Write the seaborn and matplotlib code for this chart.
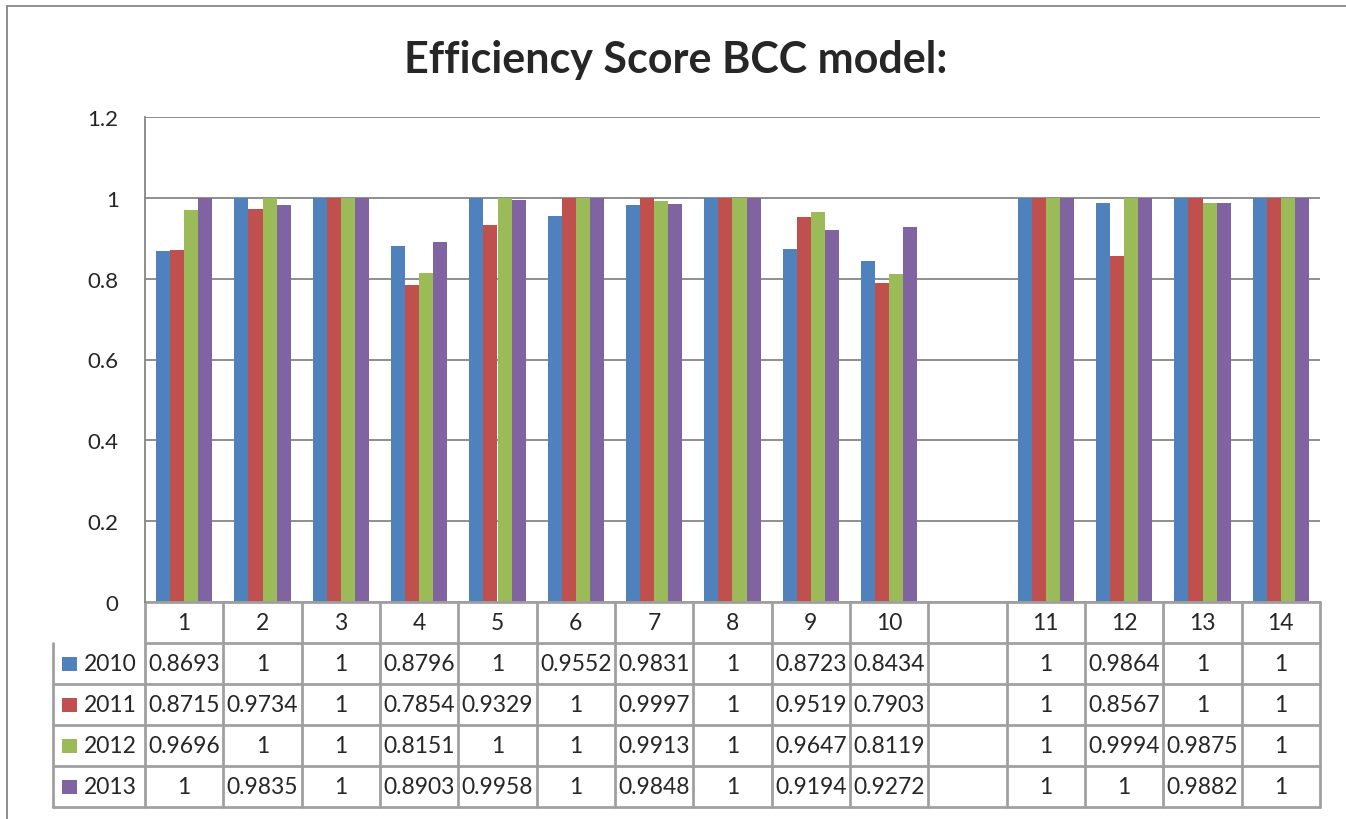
import matplotlib
matplotlib.use("Agg")
import matplotlib.pyplot as plt
import seaborn as sns
import pandas as pd
import numpy as np
from matplotlib.transforms import blended_transform_factory
from matplotlib.lines import Line2D
from matplotlib.patches import Rectangle

categories = ["1", "2", "3", "4", "5", "6", "7", "8", "9", "10", "", "11", "12", "13", "14"]
years = ["2010", "2011", "2012", "2013"]
v2010 = [0.8693, 1, 1, 0.8796, 1, 0.9552, 0.9831, 1, 0.8723, 0.8434, None, 1, 0.9864, 1, 1]
v2011 = [0.8715, 0.9734, 1, 0.7854, 0.9329, 1, 0.9997, 1, 0.9519, 0.7903, None, 1, 0.8567, 1, 1]
v2012 = [0.9696, 1, 1, 0.8151, 1, 1, 0.9913, 1, 0.9647, 0.8119, None, 1, 0.9994, 0.9875, 1]
v2013 = [1, 0.9835, 1, 0.8903, 0.9958, 1, 0.9848, 1, 0.9194, 0.9272, None, 1, 1, 0.9882, 1]
labels2010 = ["0.8693", "1", "1", "0.8796", "1", "0.9552", "0.9831", "1", "0.8723", "0.8434", "", "1", "0.9864", "1", "1"]
labels2011 = ["0.8715", "0.9734", "1", "0.7854", "0.9329", "1", "0.9997", "1", "0.9519", "0.7903", "", "1", "0.8567", "1", "1"]
labels2012 = ["0.9696", "1", "1", "0.8151", "1", "1", "0.9913", "1", "0.9647", "0.8119", "", "1", "0.9994", "0.9875", "1"]
labels2013 = ["1", "0.9835", "1", "0.8903", "0.9958", "1", "0.9848", "1", "0.9194", "0.9272", "", "1", "1", "0.9882", "1"]
colors = ["#4F81BD", "#C0504D", "#9BBB59", "#8064A2"]
yticks = [0, 0.2, 0.4, 0.6, 0.8, 1, 1.2]
ytick_labels = ["0", "0.2", "0.4", "0.6", "0.8", "1", "1.2"]

series = [v2010, v2011, v2012, v2013]
table_labels = [labels2010, labels2011, labels2012, labels2013]

rows = []
for y, vals in zip(years, series):
    for c, v in zip(categories, vals):
        rows.append({"cat": c, "year": y, "value": np.nan if v is None else v})
df = pd.DataFrame(rows)

sns.set_style("white")
plt.rcParams["font.family"] = ["Lato", "DejaVu Sans"]

W, H = 1346, 820
fig = plt.figure(figsize=(W / 100, H / 100), dpi=100)
left, right, top, bottom = 145, 1320, 118, 603
ax = fig.add_axes([left / W, (H - bottom) / H, (right - left) / W, (bottom - top) / H])

sns.barplot(data=df, x="cat", y="value", hue="year", order=categories, hue_order=years,
            palette=colors, width=0.72, gap=0, ax=ax, legend=False, errorbar=None,
            linewidth=0, saturation=1)

ax.set_xlim(-0.5, len(categories) - 0.5)
ax.set_ylim(0, 1.2)
ax.set_yticks(yticks)
ax.set_yticklabels(ytick_labels, fontsize=16)
ax.tick_params(axis="y", length=0, pad=19)
ax.set_xticks([])
ax.set_xlabel("")
ax.set_ylabel("")
ax.yaxis.grid(True, color="#868686", linewidth=1.3)
ax.set_axisbelow(True)
for s in ["top", "right", "bottom"]:
    ax.spines[s].set_visible(False)
ax.spines["left"].set_color("#868686")
ax.spines["left"].set_linewidth(1.3)

# data table
tr = blended_transform_factory(ax.transData, ax.transAxes)
axh = bottom - top
rh = 41 / axh
ncat = len(categories)
xl = -0.5
xr = ncat - 0.5
xleg = -0.5 - 92 / ((right - left) / ncat)
lc = "#A0A0A0"
lw = 2.0
fs = 16.5

def hline(x0, x1, y):
    ax.add_line(Line2D([x0, x1], [y, y], transform=tr, color=lc, lw=lw, clip_on=False))

def vline(x, y0, y1):
    ax.add_line(Line2D([x, x], [y0, y1], transform=tr, color=lc, lw=lw, clip_on=False))

hline(xl, xr, 0)
hline(xl, xr, -rh)
for r in range(1, 5):
    hline(xleg, xr, -(r + 1) * rh)
for i in range(ncat + 1):
    vline(i - 0.5, 0, -5 * rh)
vline(xleg, -rh, -5 * rh)

for i, c in enumerate(categories):
    ax.text(i, -0.5 * rh, c, transform=tr, ha="center", va="center", fontsize=fs, clip_on=False)
for r, (y, labs, col) in enumerate(zip(years, table_labels, colors)):
    yc = -(r + 1.5) * rh
    for i, lab in enumerate(labs):
        ax.text(i, yc, lab, transform=tr, ha="center", va="center", fontsize=fs, clip_on=False)
    ax.add_patch(Rectangle((xleg + 0.12, yc - 7 / axh), 0.19, 14 / axh, transform=tr,
                           facecolor=col, edgecolor="none", clip_on=False))
    ax.text(xleg + 0.39, yc, y, transform=tr, ha="left", va="center", fontsize=fs, clip_on=False)

fig.text(676 / W, 1 - 60 / H, "Efficiency Score BCC model:", ha="center", va="center",
         fontsize=31, fontweight="bold")

# outer chart border
fig.add_artist(Line2D([7 / W, 7 / W], [0, 1 - 7 / H], transform=fig.transFigure, color="#868686", lw=1.3))
fig.add_artist(Line2D([7 / W, 1], [1 - 7 / H, 1 - 7 / H], transform=fig.transFigure, color="#868686", lw=1.3))

fig.savefig("out.png", dpi=100)
